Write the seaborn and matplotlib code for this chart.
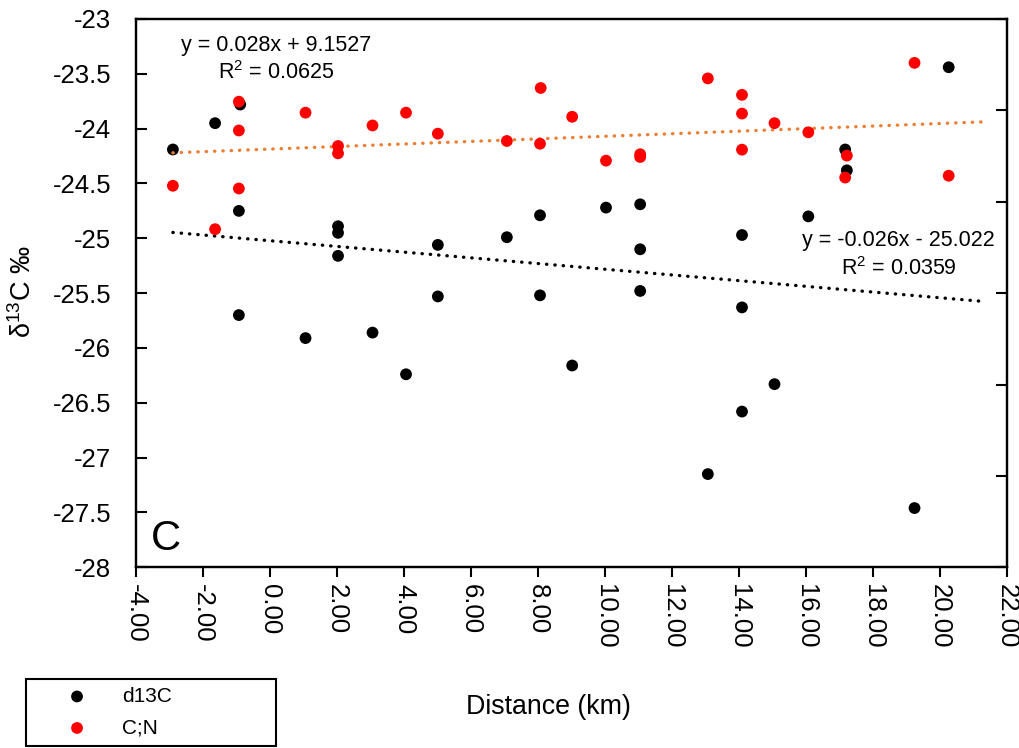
import numpy as np
import matplotlib
matplotlib.use("Agg")
import matplotlib.pyplot as plt
import seaborn as sns
from matplotlib.ticker import FuncFormatter, FixedLocator

# ---------------- data ----------------
d13c_x = [-2.90, -1.64, -0.89, -0.93, -0.93, 1.06, 2.03, 2.03, 2.03, 3.06, 4.06,
          5.01, 5.01, 7.07, 8.06, 8.06, 9.02, 10.03, 11.05, 11.05, 11.05, 13.07,
          14.09, 14.09, 14.09, 15.06, 16.07, 17.17, 17.22, 19.24, 20.26]
d13c_y = [-24.19, -23.95, -23.78, -24.75, -25.70, -25.91, -24.89, -24.95, -25.16,
          -25.86, -26.24, -25.06, -25.53, -24.99, -24.79, -25.52, -26.16, -24.72,
          -24.69, -25.10, -25.48, -27.15, -24.97, -25.63, -26.58, -26.33, -24.80,
          -24.19, -24.38, -27.46, -23.44]

cn_x = [-2.90, -1.64, -0.93, -0.93, -0.93, 1.06, 2.03, 2.03, 3.06, 4.06, 5.01,
        7.07, 8.08, 8.06, 9.02, 10.03, 11.05, 11.05, 13.07, 14.09, 14.09, 14.09,
        15.06, 16.07, 17.22, 17.17, 19.24, 20.26]
cn_y = [8.35, 7.40, 10.19, 9.56, 8.29, 9.95, 9.22, 9.06, 9.67, 9.95, 9.49,
        9.33, 10.49, 9.27, 9.86, 8.90, 9.04, 8.98, 10.70, 10.34, 9.93, 9.14,
        9.72, 9.52, 9.01, 8.53, 11.04, 8.57]

series_labels = ["d13C", "C;N"]

# trendline coefficients as printed on the chart
d13c_slope, d13c_intercept, d13c_r2 = -0.026, -25.022, 0.0359
cn_slope, cn_intercept, cn_r2 = 0.028, 9.1527, 0.0625
trend_forward = 1.0   # forward forecast period of the trendlines

x_ticks = [-4, -2, 0, 2, 4, 6, 8, 10, 12, 14, 16, 18, 20, 22]
y_ticks = [-28, -27.5, -27, -26.5, -26, -25.5, -25, -24.5, -24, -23.5, -23]
y2_ticks = [0, 2, 4, 6, 8, 10, 12]

# ---------------- style ----------------
sns.set_theme(style="ticks")
plt.rcParams['font.family'] = ['Liberation Sans', 'DejaVu Sans']
plt.rcParams['axes.unicode_minus'] = False
plt.rcParams['mathtext.fontset'] = 'custom'
plt.rcParams['mathtext.rm'] = 'Liberation Sans'
plt.rcParams['mathtext.it'] = 'Liberation Sans'
for k in ['text.color', 'axes.labelcolor', 'xtick.color', 'ytick.color', 'axes.edgecolor']:
    plt.rcParams[k] = 'black'
plt.rcParams['ytick.left'] = True
plt.rcParams['ytick.direction'] = 'in'
plt.rcParams['ytick.major.size'] = 8
plt.rcParams['ytick.major.width'] = 1.5

TICK_FS = 18.5
EQ_FS = 15.5

fig = plt.figure(figsize=(10.19, 7.48), dpi=100)
ax = fig.add_axes([0.1335, 0.2416, 0.8547, 0.7330])
ax2 = ax.twinx()

# scatter
sns.scatterplot(x=d13c_x, y=d13c_y, ax=ax, color="black", s=72, edgecolor="none",
                label=series_labels[0], legend=False, zorder=3)
sns.scatterplot(x=cn_x, y=cn_y, ax=ax2, color="#FF0000", s=72, edgecolor="none",
                label=series_labels[1], legend=False, zorder=3)

# trendlines
dot_style = (0, (0.1, 2.4))
tx1 = np.array([min(d13c_x), max(d13c_x) + trend_forward])
ty1 = d13c_slope * tx1 + d13c_intercept
sns.lineplot(x=tx1, y=ty1, ax=ax, color="black", linewidth=2.4, linestyle=dot_style,
             dash_capstyle="round", sort=False, errorbar=None, legend=False, zorder=2)
tx2 = np.array([min(cn_x), max(cn_x) + trend_forward])
ty2 = cn_slope * tx2 + cn_intercept
sns.lineplot(x=tx2, y=ty2, ax=ax2, color="#ED7D31", linewidth=2.4, linestyle=dot_style,
             dash_capstyle="round", sort=False, errorbar=None, legend=False, zorder=2)

# limits / ticks
ax.set_xlim(-4, 22)
ax.set_ylim(-28, -23)
ax2.set_ylim(0, 12)
ax.xaxis.set_major_locator(FixedLocator(x_ticks))
ax.yaxis.set_major_locator(FixedLocator(y_ticks))
ax2.yaxis.set_major_locator(FixedLocator(y2_ticks))
ax.xaxis.set_major_formatter(FuncFormatter(lambda v, p: f"{v:.2f}"))
ax.yaxis.set_major_formatter(FuncFormatter(lambda v, p: f"{v:g}"))
ax2.set_yticklabels([])

ax.tick_params(axis="x", which="major", direction="out", length=7, width=1.5,
               colors="black", labelsize=TICK_FS, labelrotation=-90, pad=5,
               bottom=True, top=False)
ax.tick_params(axis="y", which="major", direction="in", length=8, width=1.5,
               colors="black", labelsize=TICK_FS, pad=18, left=True, right=False)
ax2.tick_params(axis="y", which="major", direction="in", length=8, width=1.5,
                colors="black", right=True, labelright=False, left=False)
for lab in ax.get_xticklabels():
    lab.set_verticalalignment("top")
    lab.set_horizontalalignment("center")
for t in ax.yaxis.get_major_ticks():
    t.tick1line.set_visible(True)
    t.tick1line.set_color("black")

for a in (ax, ax2):
    for sp in a.spines.values():
        sp.set_color("black")
        sp.set_linewidth(1.6)
        sp.set_visible(True)
ax.grid(False)
ax2.grid(False)

# labels
ax.set_xlabel("Distance (km)", fontsize=19.3, color="black")
ax.xaxis.set_label_coords(0.4736, -0.231)
ax.set_ylabel("δ$^{13}$C ‰", fontsize=19.5, color="black")
ax.yaxis.set_label_coords(-0.114, 0.502)
ax2.set_ylabel("")

# equations
def eq_text(m, b):
    sign = "+" if b >= 0 else "-"
    return f"y = {m:g}x {sign} {abs(b):g}"

ax.text(0.18, -23.24, eq_text(cn_slope, cn_intercept), ha="center", va="center",
        fontsize=EQ_FS, color="black")
ax.text(0.18, -23.49, f"R$^2$ = {cn_r2:g}", ha="center", va="center",
        fontsize=EQ_FS, color="black")
ax.text(18.76, -25.02, eq_text(d13c_slope, d13c_intercept), ha="center", va="center",
        fontsize=EQ_FS, color="black")
ax.text(18.76, -25.28, f"R$^2$ = {d13c_r2:g}", ha="center", va="center",
        fontsize=EQ_FS, color="black")

# panel letter
ax.text(-3.55, -27.84, "C", ha="left", va="baseline", fontsize=30, color="black")

# legend
h1, l1 = ax.get_legend_handles_labels()
h2, l2 = ax2.get_legend_handles_labels()
handles = [h for h, l in zip(h1 + h2, l1 + l2) if l in series_labels]
labels = [l for l in l1 + l2 if l in series_labels]
for a in (ax, ax2):
    if a.get_legend() is not None:
        a.get_legend().remove()
leg = fig.legend(handles, labels, loc="lower left",
                 bbox_to_anchor=(0.0255, 0.003, 0.2454, 0.099), mode="expand",
                 borderaxespad=0, frameon=True, fancybox=False, framealpha=1,
                 edgecolor="black", fontsize=15, handlelength=4.1,
                 handletextpad=0.1, borderpad=0.4, labelspacing=0.6)
leg.get_frame().set_linewidth(1.5)
for t in leg.get_texts():
    t.set_color("black")

fig.savefig("out.png", dpi=100, facecolor="white")
